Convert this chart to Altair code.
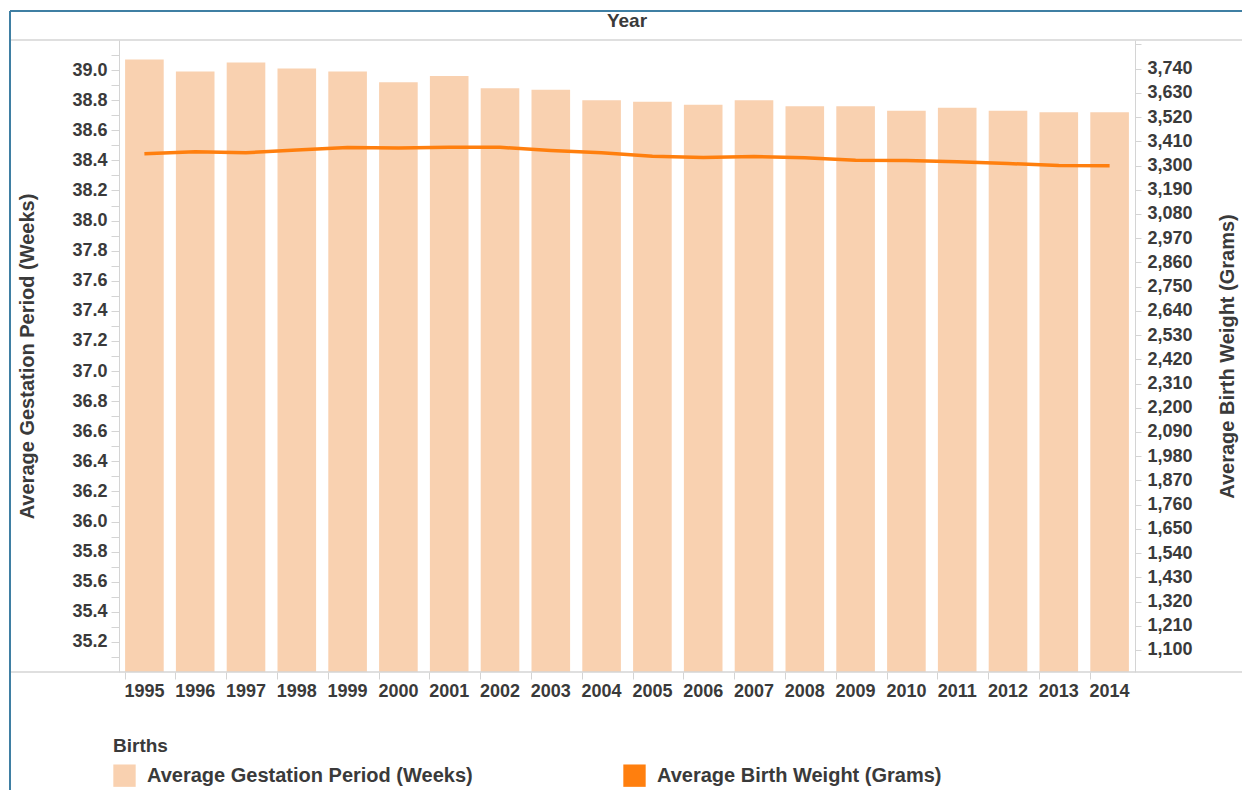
import altair as alt
import pandas as pd

years = [str(y) for y in range(1995, 2015)]
gestation = [39.07, 38.99, 39.05, 39.01, 38.99, 38.92, 38.96, 38.88, 38.87, 38.80,
             38.79, 38.77, 38.80, 38.76, 38.76, 38.73, 38.75, 38.73, 38.72, 38.72]
birth_weight = [3353, 3362, 3358, 3370, 3382, 3380, 3383, 3383, 3368, 3358,
                3342, 3336, 3341, 3335, 3324, 3323, 3317, 3309, 3300, 3299]
series_names = ["Average Gestation Period (Weeks)", "Average Birth Weight (Grams)"]
series_colors = ["#F9D1B0", "#FF7F0E"]

left_ticks = [round(35.1 + 0.1 * i, 1) for i in range(41)]
right_ticks = [1100 + 110 * i for i in range(26)]

FONT = "Liberation Sans"
TXT = "#3a3a3a"
GREY = "#d4d4d4"

bars_df = pd.DataFrame({"Year": years, "value": gestation, "series": series_names[0]})
line_df = pd.DataFrame({"Year": years, "value": birth_weight, "series": series_names[1]})

color = alt.Color(
    "series:N",
    scale=alt.Scale(domain=series_names, range=series_colors),
    legend=alt.Legend(
        title="Births", orient="none", legendX=-6, legendY=697,
        direction="horizontal", symbolType="square", symbolSize=500,
        symbolStrokeWidth=0, labelOffset=11, columnPadding=150,
        labelFontSize=20, labelFont=FONT, labelFontWeight="bold", labelColor=TXT,
        labelLimit=600, titleFontSize=19, titleFont=FONT, titleFontWeight="bold",
        titleColor=TXT, titlePadding=8, padding=0,
    ),
)

x_enc = alt.X(
    "Year:N", sort=years,
    scale=alt.Scale(paddingInner=0.24, paddingOuter=0.12),
    axis=alt.Axis(title=None, labelAngle=0, labelFontSize=18, labelFont=FONT,
                  labelFontWeight="bold", labelColor=TXT, tickColor=GREY, tickSize=7,
                  bandPosition=0, domain=False, labelPadding=3),
)

bars = alt.Chart(bars_df).mark_bar(color=series_colors[0], clip=True).encode(
    x=x_enc,
    y=alt.Y("value:Q",
            scale=alt.Scale(domain=[35.0, 39.2], zero=False, nice=False),
            axis=alt.Axis(orient="left", values=left_ticks,
                          labelExpr="round(datum.value*10) % 2 == 0 ? format(datum.value, '.1f') : ''",
                          title="Average Gestation Period (Weeks)", titleFontSize=20,
                          titleFont=FONT, titleFontWeight="bold", titleColor=TXT,
                          titleX=-92, titleY=316, titleAngle=270, titleBaseline="middle",
                          titleLimit=700,
                          labelFontSize=18, labelFont=FONT, labelFontWeight="bold",
                          labelColor=TXT, tickColor=GREY, tickSize=8, domainColor=GREY,
                          grid=False, labelPadding=4)),
    color=color,
)

line = alt.Chart(line_df).mark_line(strokeWidth=3.5).encode(
    x=alt.X("Year:N", sort=years),
    y=alt.Y("value:Q",
            scale=alt.Scale(domain=[1000, 3870], zero=False, nice=False),
            axis=alt.Axis(orient="right", values=right_ticks, format=",",
                          labelExpr="datum.value > 3800 ? '' : format(datum.value, ',')",
                          title="Average Birth Weight (Grams)", titleFontSize=20,
                          titleFont=FONT, titleFontWeight="bold", titleColor=TXT,
                          titleX=92, titleY=316, titleAngle=270, titleBaseline="middle",
                          titleLimit=700,
                          labelFontSize=18, labelFont=FONT, labelFontWeight="bold",
                          labelColor=TXT, tickColor=GREY, tickSize=6, domainColor=GREY,
                          grid=False, labelPadding=6)),
    color=color,
)

one = alt.Data(values=[{"k": 1}])
header_line = alt.Chart(one).mark_rule(color=GREY, strokeWidth=1.5).encode(
    x=alt.value(-109), x2=alt.value(1123), y=alt.value(0))
xaxis_line = alt.Chart(one).mark_rule(color=GREY, strokeWidth=1.5).encode(
    x=alt.value(-109), x2=alt.value(1123), y=alt.value(632))
frame_top = alt.Chart(one).mark_rule(color="#3f7fa3", strokeWidth=2).encode(
    x=alt.value(-109), x2=alt.value(1131), y=alt.value(-29))
frame_left = alt.Chart(one).mark_rule(color="#3f7fa3", strokeWidth=2).encode(
    x=alt.value(-109), y=alt.value(-29), y2=alt.value(770))
header_text = alt.Chart(one).mark_text(
    text="Year", font=FONT, fontSize=19, fontWeight="bold", color=TXT,
    align="center", baseline="middle").encode(x=alt.value(508), y=alt.value(-19))

chart = alt.layer(
    bars, line, header_line, xaxis_line, frame_top, frame_left, header_text
).resolve_scale(y="independent").properties(
    width=1016, height=632,
    autosize=alt.AutoSizeParams(type="none"),
    padding={"left": 111, "top": 32, "right": 107, "bottom": 118},
).configure_view(stroke=None)

chart.save("out.html", embed_options={"renderer": "svg", "actions": False})
